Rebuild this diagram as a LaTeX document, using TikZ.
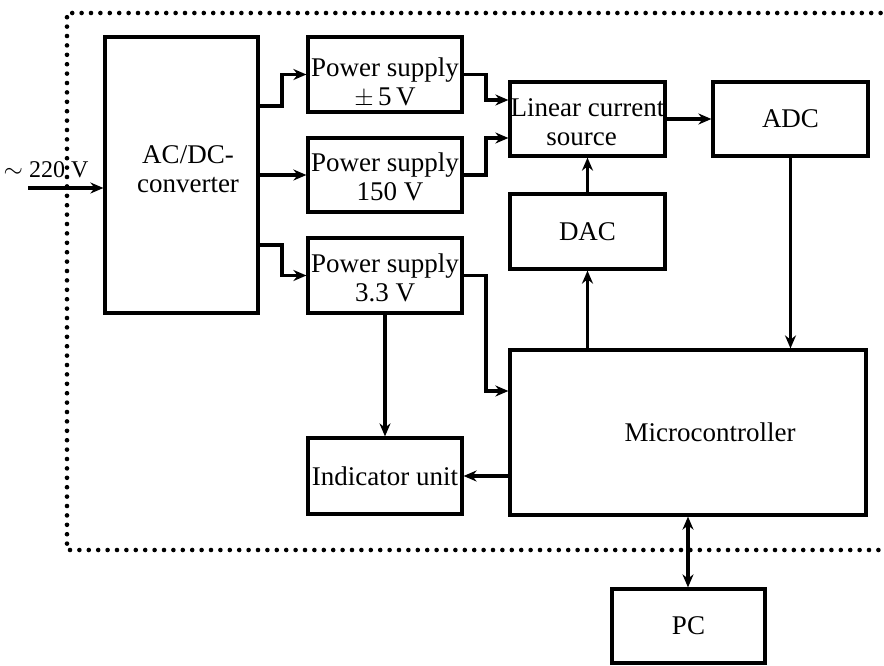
\documentclass[tikz,border=0pt]{standalone}
\usepackage{fontspec}
\setmainfont{Liberation Serif}
\usetikzlibrary{arrows.meta}
\begin{document}
\begin{tikzpicture}[x=1pt,y=-1pt,
  box/.style={draw,line width=3.2pt,inner sep=0pt,align=center,font=\fontsize{27}{29}\selectfont},
  lbl/.style={inner sep=0pt,align=center,font=\fontsize{27}{29}\selectfont},
  arr/.style={line width=3.2pt,-{Stealth[length=13pt,width=11pt]}},
  darr/.style={line width=3.2pt,{Stealth[length=13pt,width=11pt]}-{Stealth[length=13pt,width=11pt]}},
  dotline/.style={line width=4.6pt,line cap=round,dash pattern=on 0pt off 9.4pt}]
\useasboundingbox (0,0) rectangle (884,665);
% dotted frame
\draw[dotline] (890,13) -- (67,13) -- (67,550) -- (890,550);
% boxes
\node[box,minimum width=153pt,minimum height=276pt] (acdc) at (181.5,175) {};
\node[lbl] (acdctext) at (188,169) {AC/DC-\\converter};
\node[box,minimum width=154pt,minimum height=75pt] (ps5) at (385,74.5) {};
\node[lbl] (ps5text) at (385,83) {Power supply\\$\pm$\,5\,V};
\node[box,minimum width=154pt,minimum height=74pt] (ps150) at (385,175) {};
\node[lbl] (ps150text) at (385,177) {Power supply\\\hspace*{10pt}150 V};
\node[box,minimum width=154pt,minimum height=75pt] (ps33) at (385,275.5) {};
\node[lbl] (ps33text) at (385,277.5) {Power supply\\3.3 V};
\node[box,minimum width=155pt,minimum height=74pt] (lcs) at (587.5,119) {};
\node[lbl] (lcstext) at (587.5,122) {Linear current\\source\hspace*{12pt}};
\node[box,minimum width=155pt,minimum height=75pt] (dac) at (587.5,231.5) {DAC};
\node[box,minimum width=155pt,minimum height=74pt] (adc) at (790.5,119) {ADC};
\node[box,minimum width=356pt,minimum height=165pt] (mcu) at (688,432.5) {};
\node[lbl] (mcutext) at (710,432) {Microcontroller};
\node[box,minimum width=154pt,minimum height=76pt] (ind) at (385,476) {Indicator unit};
\node[box,minimum width=153pt,minimum height=74pt] (pc) at (688.5,626) {PC};
% input
\coordinate (inp) at (28,188);
\node[lbl,font=\fontsize{24}{26}\selectfont] (vin) at (46,170) {$\sim$ 220 V};
\draw[arr] (inp) -- (acdc.west |- inp);
% connectors
\draw[arr] (acdc.east |- 0,106) -- (282,106) |- (ps5.west);
\draw[arr] (acdc.east) -- (ps150.west);
\draw[arr] (acdc.east |- 0,245) -- (282,245) |- (ps33.west);
\draw[arr] (ps5.east) -- (486,74.5) |- (lcs.west |- 0,100);
\draw[arr] (ps150.east) -- (486,175) |- (lcs.west |- 0,138);
\draw[arr] (ps33.east) -- (486,275.5) |- (mcu.west |- 0,391);
\draw[arr] (ps33.south) -- (ind.north);
\draw[arr] (mcu.west |- ind.east) -- (ind.east);
\draw[arr] (mcu.north -| dac.south) -- (dac.south);
\draw[arr] (dac.north) -- (lcs.south);
\draw[arr] (lcs.east) -- (adc.west);
\draw[arr] (adc.south) -- (adc.south |- mcu.north);
\draw[darr] (mcu.south) -- (mcu.south |- pc.north);
\end{tikzpicture}
\end{document}
